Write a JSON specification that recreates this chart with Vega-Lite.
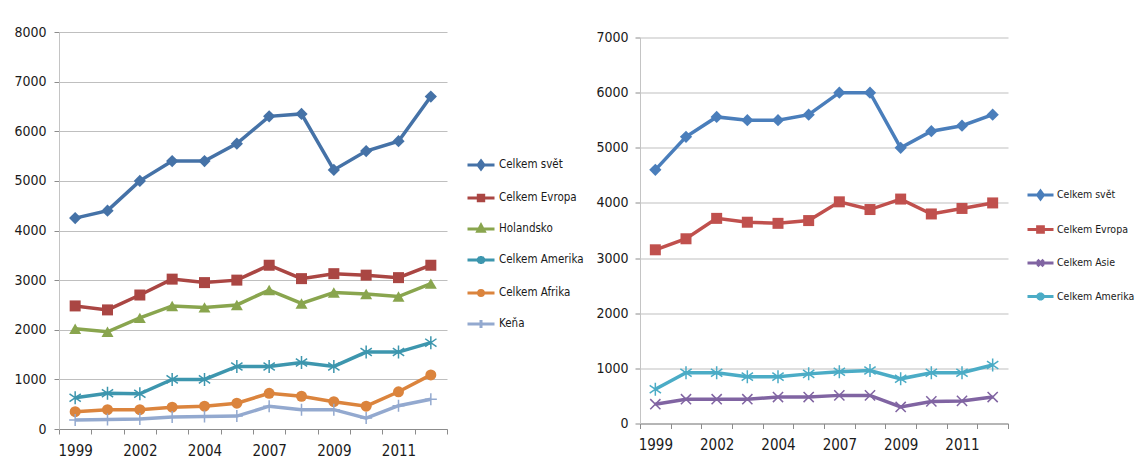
{
  "$schema": "https://vega.github.io/schema/vega-lite/v6.json",
  "padding": {"left": 13, "top": 25, "right": 0, "bottom": 0},
  "background": "white",
  "spacing": 11,
  "center": true,
  "config": {
    "font": "DejaVu Sans Condensed",
    "view": {"stroke": null},
    "axis": {"labelFont": "DejaVu Sans Condensed", "labelColor": "#1a1a1a", "domainColor": "#8c8c8c", "tickColor": "#8c8c8c", "gridColor": "#bfbfbf", "tickSize": 5, "gridWidth": 1, "domainWidth": 1},
    "axisX": {"grid": false, "tickBand": "extent", "labelAngle": 0, "labelPadding": 9, "labelFontSize": 15},
    "axisY": {"grid": true, "labelPadding": 8, "labelFontSize": 14, "domainColor": "#c4c4c4", "format": "d"},
    "legend": {"orient": "none", "title": null, "padding": 0, "labelFont": "DejaVu Sans Condensed", "labelFontSize": 11.5, "labelColor": "#1a1a1a", "labelOffset": 3, "symbolOpacity": 1, "symbolStrokeWidth": 3}
  },
  "datasets": {
    "left": [
      {"series": "Celkem svět", "year": "1999", "value": 4250}, {"series": "Celkem svět", "year": "2000", "value": 4400}, {"series": "Celkem svět", "year": "2002", "value": 5000}, {"series": "Celkem svět", "year": "2003", "value": 5400}, {"series": "Celkem svět", "year": "2004", "value": 5400}, {"series": "Celkem svět", "year": "2005", "value": 5750}, {"series": "Celkem svět", "year": "2007", "value": 6300}, {"series": "Celkem svět", "year": "2008", "value": 6350}, {"series": "Celkem svět", "year": "2009", "value": 5220}, {"series": "Celkem svět", "year": "2010", "value": 5600}, {"series": "Celkem svět", "year": "2011", "value": 5800}, {"series": "Celkem svět", "year": "2012", "value": 6700},
      {"series": "Celkem Evropa", "year": "1999", "value": 2480}, {"series": "Celkem Evropa", "year": "2000", "value": 2400}, {"series": "Celkem Evropa", "year": "2002", "value": 2700}, {"series": "Celkem Evropa", "year": "2003", "value": 3020}, {"series": "Celkem Evropa", "year": "2004", "value": 2950}, {"series": "Celkem Evropa", "year": "2005", "value": 3000}, {"series": "Celkem Evropa", "year": "2007", "value": 3300}, {"series": "Celkem Evropa", "year": "2008", "value": 3030}, {"series": "Celkem Evropa", "year": "2009", "value": 3130}, {"series": "Celkem Evropa", "year": "2010", "value": 3100}, {"series": "Celkem Evropa", "year": "2011", "value": 3050}, {"series": "Celkem Evropa", "year": "2012", "value": 3300},
      {"series": "Holandsko", "year": "1999", "value": 2020}, {"series": "Holandsko", "year": "2000", "value": 1960}, {"series": "Holandsko", "year": "2002", "value": 2240}, {"series": "Holandsko", "year": "2003", "value": 2480}, {"series": "Holandsko", "year": "2004", "value": 2450}, {"series": "Holandsko", "year": "2005", "value": 2500}, {"series": "Holandsko", "year": "2007", "value": 2800}, {"series": "Holandsko", "year": "2008", "value": 2530}, {"series": "Holandsko", "year": "2009", "value": 2750}, {"series": "Holandsko", "year": "2010", "value": 2720}, {"series": "Holandsko", "year": "2011", "value": 2670}, {"series": "Holandsko", "year": "2012", "value": 2930},
      {"series": "Celkem Amerika", "year": "1999", "value": 630}, {"series": "Celkem Amerika", "year": "2000", "value": 720}, {"series": "Celkem Amerika", "year": "2002", "value": 710}, {"series": "Celkem Amerika", "year": "2003", "value": 1000}, {"series": "Celkem Amerika", "year": "2004", "value": 1000}, {"series": "Celkem Amerika", "year": "2005", "value": 1260}, {"series": "Celkem Amerika", "year": "2007", "value": 1260}, {"series": "Celkem Amerika", "year": "2008", "value": 1340}, {"series": "Celkem Amerika", "year": "2009", "value": 1260}, {"series": "Celkem Amerika", "year": "2010", "value": 1550}, {"series": "Celkem Amerika", "year": "2011", "value": 1550}, {"series": "Celkem Amerika", "year": "2012", "value": 1740},
      {"series": "Celkem Afrika", "year": "1999", "value": 350}, {"series": "Celkem Afrika", "year": "2000", "value": 390}, {"series": "Celkem Afrika", "year": "2002", "value": 390}, {"series": "Celkem Afrika", "year": "2003", "value": 440}, {"series": "Celkem Afrika", "year": "2004", "value": 460}, {"series": "Celkem Afrika", "year": "2005", "value": 520}, {"series": "Celkem Afrika", "year": "2007", "value": 720}, {"series": "Celkem Afrika", "year": "2008", "value": 660}, {"series": "Celkem Afrika", "year": "2009", "value": 550}, {"series": "Celkem Afrika", "year": "2010", "value": 460}, {"series": "Celkem Afrika", "year": "2011", "value": 750}, {"series": "Celkem Afrika", "year": "2012", "value": 1090},
      {"series": "Keňa", "year": "1999", "value": 180}, {"series": "Keňa", "year": "2000", "value": 190}, {"series": "Keňa", "year": "2002", "value": 200}, {"series": "Keňa", "year": "2003", "value": 240}, {"series": "Keňa", "year": "2004", "value": 250}, {"series": "Keňa", "year": "2005", "value": 260}, {"series": "Keňa", "year": "2007", "value": 460}, {"series": "Keňa", "year": "2008", "value": 390}, {"series": "Keňa", "year": "2009", "value": 390}, {"series": "Keňa", "year": "2010", "value": 220}, {"series": "Keňa", "year": "2011", "value": 470}, {"series": "Keňa", "year": "2012", "value": 600}
    ],
    "right": [
      {"series": "Celkem svět", "year": "1999", "value": 4600}, {"series": "Celkem svět", "year": "2000", "value": 5200}, {"series": "Celkem svět", "year": "2002", "value": 5560}, {"series": "Celkem svět", "year": "2003", "value": 5500}, {"series": "Celkem svět", "year": "2004", "value": 5500}, {"series": "Celkem svět", "year": "2005", "value": 5600}, {"series": "Celkem svět", "year": "2007", "value": 6000}, {"series": "Celkem svět", "year": "2008", "value": 6000}, {"series": "Celkem svět", "year": "2009", "value": 5000}, {"series": "Celkem svět", "year": "2010", "value": 5300}, {"series": "Celkem svět", "year": "2011", "value": 5400}, {"series": "Celkem svět", "year": "2012", "value": 5600},
      {"series": "Celkem Evropa", "year": "1999", "value": 3150}, {"series": "Celkem Evropa", "year": "2000", "value": 3350}, {"series": "Celkem Evropa", "year": "2002", "value": 3720}, {"series": "Celkem Evropa", "year": "2003", "value": 3650}, {"series": "Celkem Evropa", "year": "2004", "value": 3630}, {"series": "Celkem Evropa", "year": "2005", "value": 3680}, {"series": "Celkem Evropa", "year": "2007", "value": 4020}, {"series": "Celkem Evropa", "year": "2008", "value": 3880}, {"series": "Celkem Evropa", "year": "2009", "value": 4070}, {"series": "Celkem Evropa", "year": "2010", "value": 3800}, {"series": "Celkem Evropa", "year": "2011", "value": 3900}, {"series": "Celkem Evropa", "year": "2012", "value": 4000},
      {"series": "Celkem Asie", "year": "1999", "value": 350}, {"series": "Celkem Asie", "year": "2000", "value": 440}, {"series": "Celkem Asie", "year": "2002", "value": 440}, {"series": "Celkem Asie", "year": "2003", "value": 440}, {"series": "Celkem Asie", "year": "2004", "value": 480}, {"series": "Celkem Asie", "year": "2005", "value": 480}, {"series": "Celkem Asie", "year": "2007", "value": 510}, {"series": "Celkem Asie", "year": "2008", "value": 510}, {"series": "Celkem Asie", "year": "2009", "value": 300}, {"series": "Celkem Asie", "year": "2010", "value": 400}, {"series": "Celkem Asie", "year": "2011", "value": 410}, {"series": "Celkem Asie", "year": "2012", "value": 480},
      {"series": "Celkem Amerika", "year": "1999", "value": 620}, {"series": "Celkem Amerika", "year": "2000", "value": 920}, {"series": "Celkem Amerika", "year": "2002", "value": 920}, {"series": "Celkem Amerika", "year": "2003", "value": 850}, {"series": "Celkem Amerika", "year": "2004", "value": 850}, {"series": "Celkem Amerika", "year": "2005", "value": 900}, {"series": "Celkem Amerika", "year": "2007", "value": 940}, {"series": "Celkem Amerika", "year": "2008", "value": 960}, {"series": "Celkem Amerika", "year": "2009", "value": 810}, {"series": "Celkem Amerika", "year": "2010", "value": 920}, {"series": "Celkem Amerika", "year": "2011", "value": 920}, {"series": "Celkem Amerika", "year": "2012", "value": 1060}
    ]
  },
  "resolve": {"scale": {"color": "independent", "shape": "independent", "x": "independent", "y": "independent"}, "legend": {"color": "independent", "shape": "independent"}},
  "hconcat": [
    {
      "width": 388,
      "height": 397,
      "data": {"name": "left"},
      "encoding": {
        "x": {"field": "year", "type": "ordinal", "title": null, "scale": {"type": "band", "paddingInner": 0, "paddingOuter": 0},
          "axis": {"labelExpr": "indexof(['1999','2002','2004','2007','2009','2011'], datum.label) >= 0 ? datum.label : ''"}},
        "y": {"field": "value", "type": "quantitative", "title": null, "scale": {"domain": [0, 8000], "nice": false},
          "axis": {"values": [0, 1000, 2000, 3000, 4000, 5000, 6000, 7000, 8000]}},
        "color": {"field": "series", "type": "nominal",
          "scale": {"domain": ["Celkem svět", "Celkem Evropa", "Holandsko", "Celkem Amerika", "Celkem Afrika", "Keňa"], "range": ["#4572A7", "#AA4643", "#89A54E", "#3D96AE", "#DB843D", "#93A9CF"]},
          "legend": {"legendX": 407, "legendY": 118, "symbolSize": 729, "rowPadding": 7}}
      },
      "layer": [
        {"mark": {"type": "point", "filled": false, "opacity": 0, "strokeWidth": 3},
          "encoding": {"shape": {"field": "series", "type": "nominal",
            "scale": {"domain": ["Celkem svět", "Celkem Evropa", "Holandsko", "Celkem Amerika", "Celkem Afrika", "Keňa"],
              "range": ["M-1,0L1,0M0,-0.3L0.22,0L0,0.3L-0.22,0Z", "M-1,0L1,0M-0.2,-0.2L0.2,-0.2L0.2,0.2L-0.2,0.2Z", "M-1,0L1,0M0,-0.28L0.24,0.17L-0.24,0.17Z", "M-1,0L1,0M0,-0.3L0,0.3M-0.24,-0.2L0.24,0.2M-0.24,0.2L0.24,-0.2", "M-1,0L1,0M0.18,0A0.18,0.18,0,1,1,-0.18,0A0.18,0.18,0,1,1,0.18,0Z", "M-1,0L1,0M0,-0.3L0,0.3"]},
            "legend": {"legendX": 407, "legendY": 118, "symbolSize": 729, "rowPadding": 7}}}},
        {"mark": {"type": "line", "strokeWidth": 3.5}},
        {"transform": [{"filter": {"field": "series", "equal": "Celkem svět"}}], "mark": {"type": "point", "shape": "diamond", "filled": true, "opacity": 1, "size": 150}},
        {"transform": [{"filter": {"field": "series", "equal": "Celkem Evropa"}}], "mark": {"type": "point", "shape": "square", "filled": true, "opacity": 1, "size": 121}},
        {"transform": [{"filter": {"field": "series", "equal": "Holandsko"}}], "mark": {"type": "point", "shape": "triangle-up", "filled": true, "opacity": 1, "size": 144}},
        {"transform": [{"filter": {"field": "series", "equal": "Celkem Amerika"}}], "mark": {"type": "point", "shape": "M0,-1L0,1M-0.87,-0.6L0.87,0.6M-0.87,0.6L0.87,-0.6", "filled": false, "opacity": 1, "size": 169, "strokeWidth": 1.5}},
        {"transform": [{"filter": {"field": "series", "equal": "Celkem Afrika"}}], "mark": {"type": "point", "shape": "circle", "filled": true, "opacity": 1, "size": 121}},
        {"transform": [{"filter": {"field": "series", "equal": "Keňa"}}], "mark": {"type": "point", "shape": "M-1,0L1,0M0,-1L0,1", "filled": false, "opacity": 1, "size": 144, "strokeWidth": 1.5}}
      ]
    },
    {
      "width": 368,
      "height": 386,
      "data": {"name": "right"},
      "encoding": {
        "x": {"field": "year", "type": "ordinal", "title": null, "scale": {"type": "band", "paddingInner": 0, "paddingOuter": 0},
          "axis": {"labelExpr": "indexof(['1999','2002','2004','2007','2009','2011'], datum.label) >= 0 ? datum.label : ''"}},
        "y": {"field": "value", "type": "quantitative", "title": null, "scale": {"domain": [0, 7000], "nice": false},
          "axis": {"values": [0, 1000, 2000, 3000, 4000, 5000, 6000, 7000], "labelPadding": 7}},
        "color": {"field": "series", "type": "nominal",
          "scale": {"domain": ["Celkem svět", "Celkem Evropa", "Celkem Asie", "Celkem Amerika"], "range": ["#4A7EBB", "#C0504D", "#8064A2", "#4BACC6"]},
          "legend": {"legendX": 386, "legendY": 143, "symbolSize": 676, "rowPadding": 9.5, "labelFontSize": 10.5, "labelOffset": 2}}
      },
      "layer": [
        {"mark": {"type": "point", "filled": false, "opacity": 0, "strokeWidth": 3},
          "encoding": {"shape": {"field": "series", "type": "nominal",
            "scale": {"domain": ["Celkem svět", "Celkem Evropa", "Celkem Asie", "Celkem Amerika"],
              "range": ["M-1,0L1,0M0,-0.3L0.22,0L0,0.3L-0.22,0Z", "M-1,0L1,0M-0.22,-0.22L0.22,-0.22L0.22,0.22L-0.22,0.22Z", "M-1,0L1,0M-0.24,-0.24L0.24,0.24M-0.24,0.24L0.24,-0.24", "M-1,0L1,0M0,-0.3L0,0.3M-0.24,-0.2L0.24,0.2M-0.24,0.2L0.24,-0.2"]},
            "legend": {"legendX": 386, "legendY": 143, "symbolSize": 676, "rowPadding": 9.5, "labelFontSize": 10.5, "labelOffset": 2}}}},
        {"mark": {"type": "line", "strokeWidth": 3.5}},
        {"transform": [{"filter": {"field": "series", "equal": "Celkem svět"}}], "mark": {"type": "point", "shape": "diamond", "filled": true, "opacity": 1, "size": 150}},
        {"transform": [{"filter": {"field": "series", "equal": "Celkem Evropa"}}], "mark": {"type": "point", "shape": "square", "filled": true, "opacity": 1, "size": 121}},
        {"transform": [{"filter": {"field": "series", "equal": "Celkem Asie"}}], "mark": {"type": "point", "shape": "M-0.85,-0.85L0.85,0.85M-0.85,0.85L0.85,-0.85", "filled": false, "opacity": 1, "size": 144, "strokeWidth": 1.5}},
        {"transform": [{"filter": {"field": "series", "equal": "Celkem Amerika"}}], "mark": {"type": "point", "shape": "M0,-1L0,1M-0.87,-0.6L0.87,0.6M-0.87,0.6L0.87,-0.6", "filled": false, "opacity": 1, "size": 169, "strokeWidth": 1.5}}
      ]
    }
  ]
}
